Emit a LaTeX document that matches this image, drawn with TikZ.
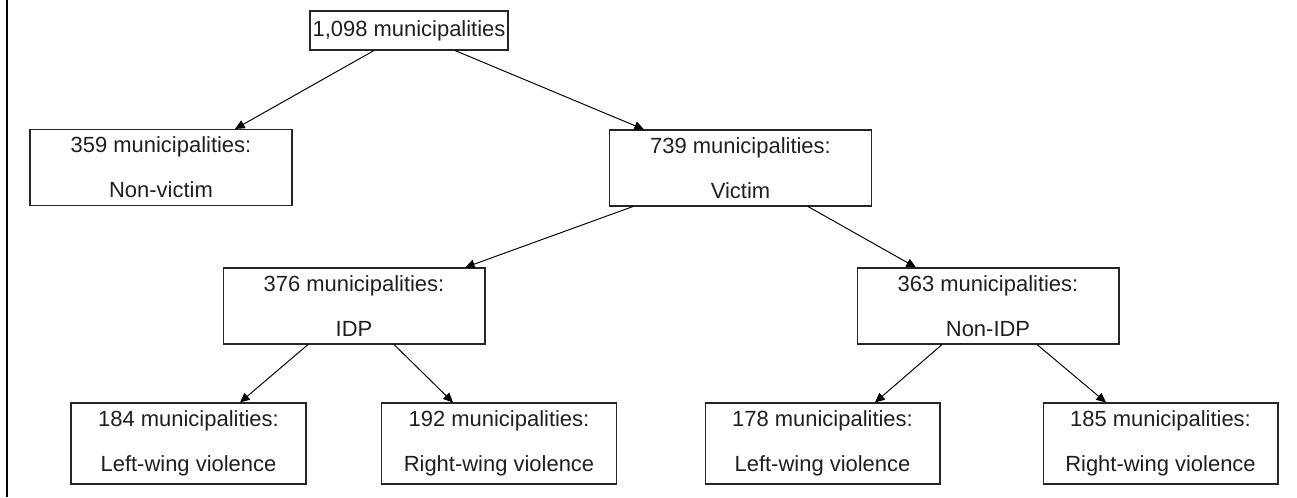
\documentclass[tikz,border=0pt]{standalone}
\usepackage{fontspec}
\setmainfont{Liberation Sans}
\usepackage{tikz}
\usetikzlibrary{arrows.meta}
\usetikzlibrary{calc}

\tikzset{
  root/.style={draw=black!85, line width=0.6pt, minimum width=3.96cm, minimum height=0.78cm, inner sep=0pt},
  box/.style={draw=black!85, line width=0.6pt, minimum width=5.24cm, minimum height=1.52cm, inner sep=0pt, align=center},
  leaf/.style={box, minimum width=4.7cm, minimum height=1.62cm},
  link/.style={-{Triangle[length=5.5pt,width=5pt]}, line width=0.55pt}
}

\begin{document}
\begin{tikzpicture}[x=0.02cm, y=-0.02cm, font=\fontsize{12.5}{25.5}\selectfont, text=black!88]
\useasboundingbox (0,0) rectangle (1297,497);
\draw[line width=1.4pt] (7,0) -- (7,497);	% left rule
\node[root] (total) at (409, 30.5) {1,098 municipalities};
\node[box] (nonvictim) at (161, 167.5) {359 municipalities:\\ Non-victim};
\node[box] (victim) at (740.5, 168) {739 municipalities:\\ Victim};
\node[box] (idp) at (354, 306) {376 municipalities:\\ IDP};
\node[box] (nonidp) at (988, 306) {363 municipalities:\\ Non-IDP};
\node[leaf] (idpleft) at (188.5, 443.5) {184 municipalities:\\ Left-wing violence};
\node[leaf] (idpright) at (499, 443.5) {192 municipalities:\\ Right-wing violence};
\node[leaf] (nonidpleft) at (822.5, 443.5) {178 municipalities:\\ Left-wing violence};
\node[leaf] (nonidpright) at (1160.5, 443.5) {185 municipalities:\\ Right-wing violence};
\foreach \a/\da/\b/\db in {total/-35/nonvictim/74, total/46/victim/-96.5, victim/-107.5/idp/111, victim/67.5/nonidp/-72, idp/-46/idpleft/51.5, idp/40/idpright/-46, nonidp/-46/nonidpleft/52.5, nonidp/49/nonidpright/-54.5}
  \draw[link] ($(\a.south)+(\da,0)$) -- ($(\b.north)+(\db,0)$);
\end{tikzpicture}
\end{document}
